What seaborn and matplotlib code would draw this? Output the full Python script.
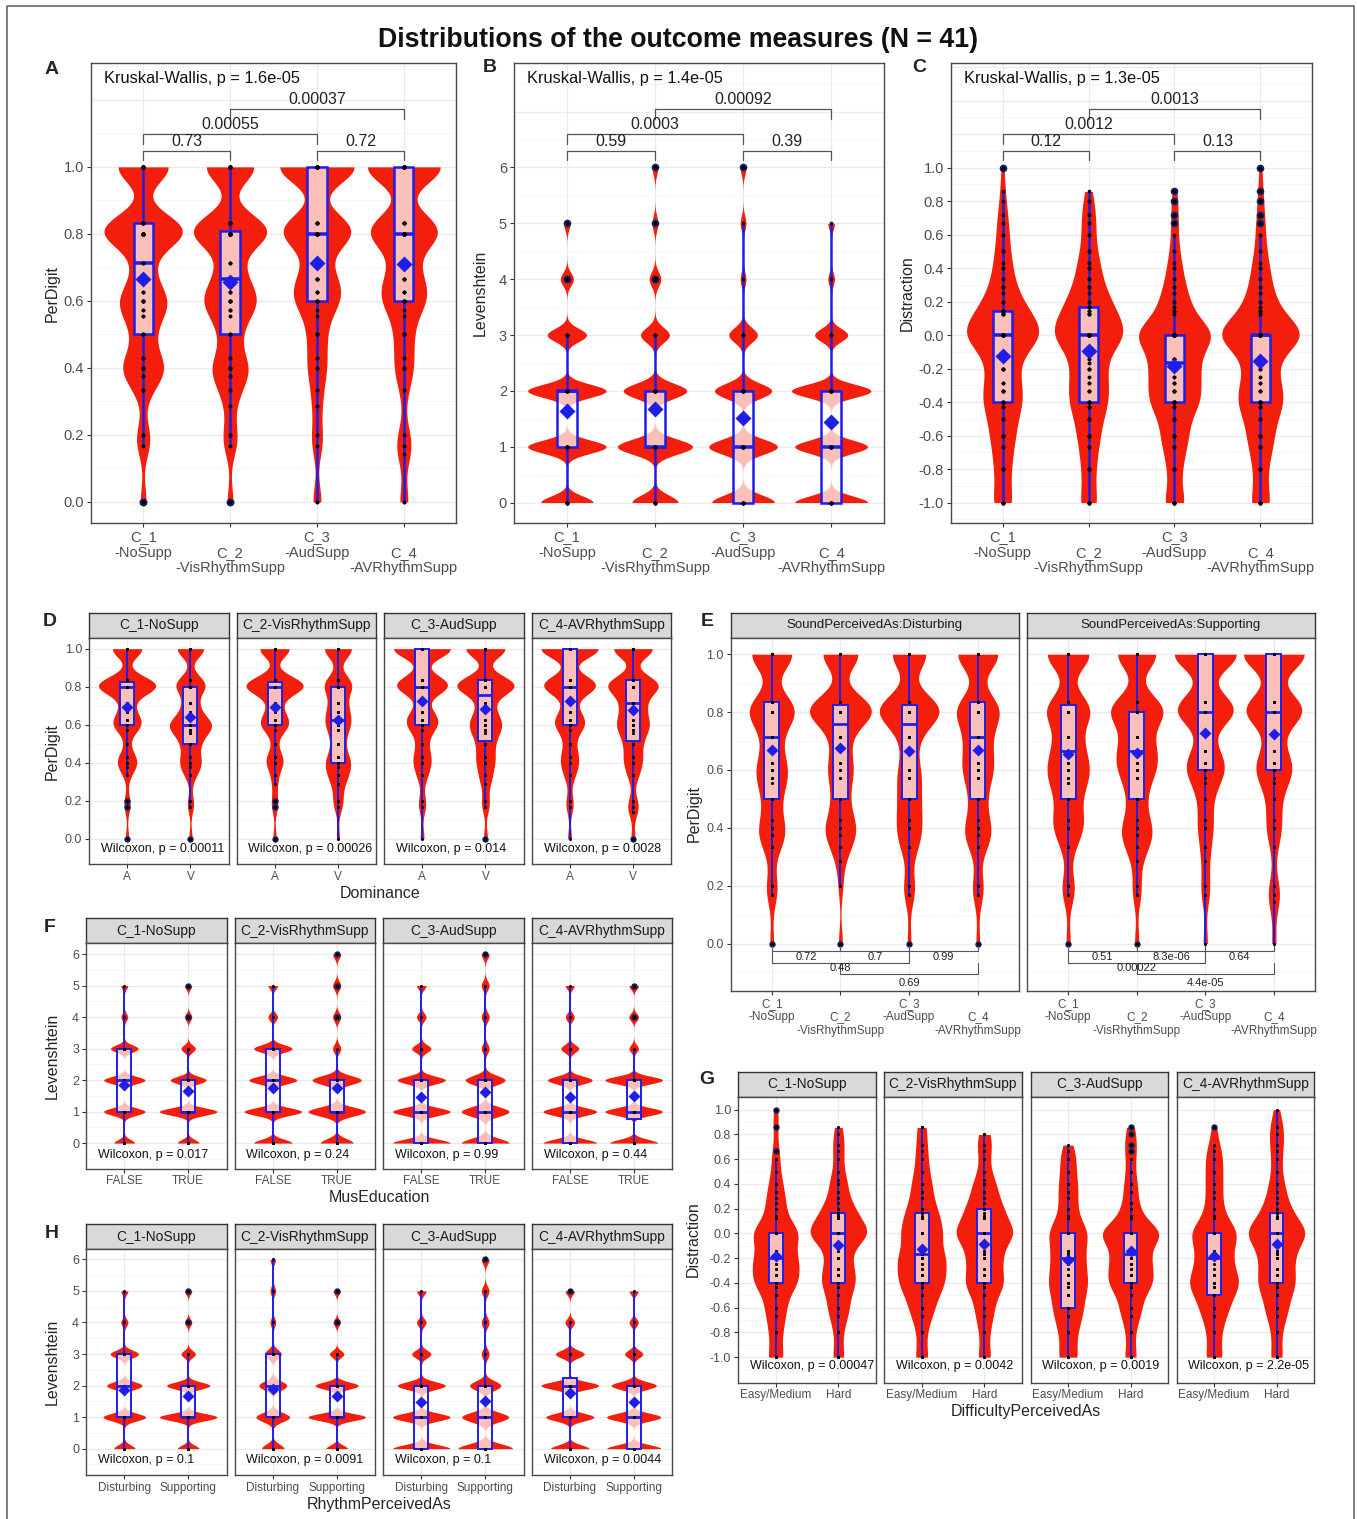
import numpy as np
import pandas as pd
import matplotlib
matplotlib.use("Agg")
import matplotlib.pyplot as plt
import matplotlib.transforms as mtransforms
import seaborn as sns

# ---------------- data (counts per observed level) ----------------
CONDITIONS = ["C_1-NoSupp", "C_2-VisRhythmSupp", "C_3-AudSupp", "C_4-AVRhythmSupp"]
COND_TICKS = ["C_1\n-NoSupp", "\nC_2\n-VisRhythmSupp", "C_3\n-AudSupp", "\nC_4\n-AVRhythmSupp"]

PD_LEVELS = [0, 0.1429, 0.1667, 0.2, 0.2857, 0.3333, 0.375, 0.4, 0.4286, 0.5,
             0.5556, 0.5714, 0.6, 0.625, 0.6667, 0.7143, 0.8, 0.8333, 1.0]
LV_LEVELS = [0, 1, 2, 3, 4, 5, 6]
DS_LEVELS = [-1, -0.8, -0.667, -0.6, -0.5, -0.429, -0.4, -0.333, -0.286, -0.25,
             -0.2, -0.167, -0.143, 0, 0.125, 0.143, 0.167, 0.2, 0.25, 0.286,
             0.333, 0.4, 0.429, 0.5, 0.6, 0.667, 0.714, 0.8, 0.857, 1.0]

# A: PerDigit per condition
PD_C1 = [2, 0, 2, 3, 0, 3, 3, 7, 4, 5, 3, 3, 8, 3, 3, 4, 20, 9, 18]
PD_C2 = [2, 0, 2, 3, 2, 3, 3, 6, 3, 5, 2, 4, 8, 4, 5, 4, 19, 8, 17]
PD_C3 = [3, 0, 2, 2, 2, 2, 0, 4, 2, 5, 1, 1, 8, 4, 7, 3, 18, 8, 28]
PD_C4 = [3, 2, 2, 2, 0, 2, 0, 4, 2, 5, 1, 1, 8, 4, 6, 4, 18, 8, 28]

# B: Levenshtein per condition
LV_C1 = [8, 12, 12, 6, 2, 1, 0]
LV_C2 = [8, 13, 11, 5, 2, 1, 1]
LV_C3 = [11, 12, 10, 5, 1, 1, 1]
LV_C4 = [11, 11, 12, 5, 1, 1, 0]

# C: Distraction per condition
DS_C1 = [8, 6, 3, 6, 4, 3, 6, 6, 3, 0, 6, 0, 4, 28, 6, 7, 0, 3, 2, 3, 2, 3, 1, 3, 2, 2, 1, 1, 1, 1]
DS_C2 = [7, 5, 3, 5, 4, 3, 6, 5, 3, 2, 5, 2, 3, 26, 5, 4, 5, 3, 2, 3, 3, 3, 2, 3, 2, 2, 2, 2, 1, 0]
DS_C3 = [8, 5, 4, 6, 4, 3, 9, 6, 4, 3, 5, 5, 5, 28, 2, 3, 2, 3, 2, 2, 2, 2, 1, 2, 1, 1, 1, 1, 1, 0]
DS_C4 = [8, 5, 4, 6, 4, 3, 9, 5, 3, 2, 4, 2, 3, 33, 3, 3, 2, 3, 2, 2, 2, 3, 1, 2, 2, 1, 1, 1, 1, 1]

# D: PerDigit by Dominance (A / V)
DOM_GROUPS = ["A", "V"]
DOM_A_C1 = [1, 0, 1, 1, 0, 1, 1, 3, 2, 1, 0, 1, 5, 2, 2, 2, 14, 4, 9]
DOM_V_C1 = [1, 0, 1, 1, 0, 2, 1, 3, 2, 4, 2, 2, 7, 2, 2, 3, 6, 3, 8]
DOM_A_C2 = [1, 0, 1, 1, 1, 1, 0, 3, 2, 1, 0, 1, 5, 2, 2, 2, 14, 4, 9]
DOM_V_C2 = [1, 0, 1, 2, 2, 3, 1, 4, 2, 3, 0, 2, 3, 2, 3, 3, 6, 3, 9]
DOM_A_C3 = [1, 0, 1, 1, 0, 2, 0, 2, 2, 2, 0, 1, 4, 2, 3, 0, 10, 4, 15]
DOM_V_C3 = [1, 0, 1, 1, 1, 2, 0, 2, 2, 3, 1, 2, 3, 2, 2, 2, 11, 4, 10]
DOM_A_C4 = [1, 0, 1, 1, 0, 2, 0, 2, 2, 2, 0, 1, 4, 2, 2, 1, 10, 4, 15]
DOM_V_C4 = [1, 1, 1, 1, 0, 2, 0, 2, 2, 3, 1, 2, 3, 2, 2, 4, 9, 4, 10]
DOM_P = ["0.00011", "0.00026", "0.014", "0.0028"]

# E: PerDigit by SoundPerceivedAs
SND_FACETS = ["SoundPerceivedAs:Disturbing", "SoundPerceivedAs:Supporting"]
SND_DIS_C1 = [1, 0, 1, 2, 0, 2, 2, 3, 1, 3, 1, 2, 3, 2, 1, 3, 9, 3, 11]
SND_DIS_C2 = [1, 0, 0, 1, 1, 2, 2, 3, 2, 3, 0, 2, 2, 2, 1, 3, 12, 4, 9]
SND_DIS_C3 = [1, 0, 1, 2, 0, 3, 0, 3, 2, 4, 0, 2, 3, 0, 1, 3, 12, 4, 9]
SND_DIS_C4 = [1, 0, 1, 2, 0, 2, 2, 3, 1, 3, 0, 2, 3, 2, 2, 4, 8, 3, 11]
SND_SUP_C1 = [1, 0, 1, 2, 0, 2, 0, 3, 3, 3, 2, 2, 3, 2, 3, 3, 7, 3, 10]
SND_SUP_C2 = [1, 0, 1, 1, 1, 2, 2, 3, 1, 3, 0, 2, 3, 2, 4, 3, 9, 3, 9]
SND_SUP_C3 = [1, 0, 1, 1, 1, 1, 0, 2, 1, 2, 1, 1, 4, 2, 3, 0, 10, 4, 15]
SND_SUP_C4 = [1, 1, 1, 1, 0, 1, 0, 2, 1, 2, 1, 1, 4, 2, 2, 1, 10, 4, 15]
SND_DIS_P = ["0.72", "0.7", "0.99", "0.48", "0.69"]
SND_SUP_P = ["0.51", "8.3e-06", "0.64", "0.00022", "4.4e-05"]

# F: Levenshtein by MusEducation
MUS_GROUPS = ["FALSE", "TRUE"]
MUS_F_C1 = [3, 6, 6, 4, 1, 1, 0]
MUS_T_C1 = [3, 8, 5, 2, 1, 1, 0]
MUS_F_C2 = [4, 6, 5, 4, 1, 1, 0]
MUS_T_C2 = [4, 7, 6, 1, 1, 1, 1]
MUS_F_C3 = [6, 6, 5, 2, 1, 1, 0]
MUS_T_C3 = [6, 6, 5, 1, 1, 1, 1]
MUS_F_C4 = [6, 6, 5, 2, 1, 1, 0]
MUS_T_C4 = [5, 6, 6, 1, 1, 1, 0]
MUS_P = ["0.017", "0.24", "0.99", "0.44"]

# G: Distraction by DifficultyPerceivedAs
DIF_GROUPS = ["Easy/Medium", "Hard"]
DIF_E_C1 = [4, 3, 2, 3, 2, 1, 6, 3, 2, 2, 4, 2, 2, 11, 1, 1, 0, 2, 1, 1, 1, 2, 0, 1, 1, 1, 0, 0, 1, 1]
DIF_H_C1 = [3, 2, 2, 3, 2, 2, 3, 3, 2, 0, 3, 0, 2, 14, 2, 2, 2, 2, 1, 1, 1, 2, 1, 1, 1, 1, 1, 1, 1, 0]
DIF_E_C2 = [3, 2, 2, 3, 3, 2, 4, 3, 2, 2, 3, 3, 2, 8, 2, 1, 2, 2, 0, 1, 2, 2, 0, 2, 1, 1, 1, 0, 2, 0]
DIF_H_C2 = [3, 2, 2, 2, 2, 2, 4, 2, 2, 0, 3, 2, 2, 12, 2, 2, 1, 3, 1, 1, 2, 2, 1, 1, 1, 1, 1, 2, 0, 0]
DIF_E_C3 = [5, 4, 3, 4, 3, 2, 4, 3, 1, 1, 3, 2, 2, 9, 1, 1, 0, 2, 0, 1, 2, 2, 0, 2, 2, 1, 1, 0, 0, 0]
DIF_H_C3 = [3, 2, 2, 3, 2, 2, 5, 3, 2, 2, 2, 3, 2, 14, 1, 1, 0, 2, 1, 0, 1, 2, 0, 1, 1, 1, 1, 1, 1, 0]
DIF_E_C4 = [4, 3, 2, 4, 3, 2, 6, 3, 1, 1, 3, 2, 2, 10, 1, 1, 0, 2, 0, 1, 1, 2, 0, 2, 2, 1, 1, 0, 1, 0]
DIF_H_C4 = [3, 2, 2, 3, 2, 2, 4, 2, 2, 0, 3, 2, 2, 13, 2, 1, 2, 1, 1, 1, 1, 2, 0, 1, 1, 1, 1, 1, 2, 1]
DIF_P = ["0.00047", "0.0042", "0.0019", "2.2e-05"]

# H: Levenshtein by RhythmPerceivedAs
RHY_GROUPS = ["Disturbing", "Supporting"]
RHY_D_C1 = [3, 6, 5, 4, 1, 1, 0]
RHY_S_C1 = [3, 8, 6, 2, 1, 1, 0]
RHY_D_C2 = [4, 6, 5, 3, 1, 1, 1]
RHY_S_C2 = [3, 8, 6, 2, 1, 1, 0]
RHY_D_C3 = [6, 6, 5, 2, 1, 1, 0]
RHY_S_C3 = [7, 6, 4, 1, 1, 1, 1]
RHY_D_C4 = [4, 5, 6, 3, 1, 1, 0]
RHY_S_C4 = [6, 6, 5, 2, 1, 1, 0]
RHY_P = ["0.1", "0.0091", "0.1", "0.0044"]

KW_P = ["1.6e-05", "1.4e-05", "1.3e-05"]
PAIR_P = {"A": ["0.73", "0.72", "0.00055", "0.00037"],
          "B": ["0.59", "0.39", "0.0003", "0.00092"],
          "C": ["0.12", "0.13", "0.0012", "0.0013"]}

# ---------------- style ----------------
W, H = 1357, 1519
sns.set_theme(style="white")
plt.rcParams["font.family"] = ["Liberation Sans", "DejaVu Sans"]

RED = "#F31E0B"
BLUE = "#1E1EE8"
NAVY = "#15205A"
GRID = "#EBEBEB"
GRID_MINOR = "#F5F5F5"
TICK = "#4D4D4D"
FRAME = "#4A4A4A"

fig = plt.figure(figsize=(W / 100, H / 100), dpi=100)


def px_axes(x0, y0, x1, y1):
    return fig.add_axes([x0 / W, 1 - y1 / H, (x1 - x0) / W, (y1 - y0) / H])


def ftext(x, y, s, **kw):
    fig.text(x / W, 1 - y / H, s, **kw)


def long_df(groups, levels, count_lists):
    parts = [pd.DataFrame({"group": g, "value": np.repeat(levels, c)})
             for g, c in zip(groups, count_lists)]
    return pd.concat(parts, ignore_index=True)


def draw_dist(ax, df, order, bw, big=False):
    lw = 1.8 if big else 1.4
    sns.violinplot(data=df, x="group", y="value", order=order, ax=ax, color=RED,
                   saturation=1, inner=None, cut=0, density_norm="area", width=0.9,
                   bw_adjust=bw, linewidth=0, gridsize=300)
    sns.boxplot(data=df, x="group", y="value", order=order, ax=ax, width=0.22, whis=1.5,
                showcaps=False, linecolor=BLUE, linewidth=lw,
                boxprops=dict(facecolor=(1, 1, 1, 0.72), edgecolor=BLUE, linewidth=lw),
                whiskerprops=dict(color=BLUE, linewidth=lw),
                medianprops=dict(color=BLUE, linewidth=lw * 1.4),
                flierprops=dict(marker="o", markerfacecolor=NAVY, markeredgecolor=NAVY,
                                markersize=4.5 if big else 3.6))
    sns.stripplot(data=df, x="group", y="value", order=order, ax=ax, jitter=False,
                  color="black", size=2.6 if big else 2.2, linewidth=0, zorder=4)
    sns.pointplot(data=df, x="group", y="value", order=order, ax=ax, estimator="mean",
                  errorbar=None, markers="D", linestyles="none", color=BLUE,
                  markersize=6.5 if big else 4.3, zorder=5)


def style_axes(ax, n, ylim, ticks, labels, major, minor, ytick_fs, xlabels, xtick_fs,
               show_y=True, linespacing=1.0):
    ax.set_xlim(-0.6, n - 0.4)
    ax.set_ylim(*ylim)
    ax.set_xlabel("")
    ax.set_ylabel("")
    ax.grid(False)
    for v in minor:
        ax.axhline(v, color=GRID_MINOR, lw=0.6, zorder=0)
    for v in major:
        ax.axhline(v, color=GRID, lw=0.9, zorder=0)
    for i in range(n):
        ax.axvline(i, color=GRID, lw=0.9, zorder=0)
    ax.set_xticks(range(n))
    ax.set_xticklabels(xlabels, fontsize=xtick_fs, color=TICK, linespacing=linespacing)
    ax.set_yticks(ticks)
    if show_y:
        ax.set_yticklabels(labels, fontsize=ytick_fs, color=TICK)
        ax.tick_params(axis="y", left=True, length=3, width=0.8, color="#333333", pad=2)
    else:
        ax.set_yticklabels([])
        ax.tick_params(axis="y", left=False, length=0)
    ax.tick_params(axis="x", bottom=True, length=3, width=0.8, color="#333333", pad=2)
    for sp in ax.spines.values():
        sp.set_color(FRAME)
        sp.set_linewidth(1.0)


def strip(x0, x1, y0, y1, text, fs):
    s = px_axes(x0, y0, x1, y1)
    s.set_facecolor("#D9D9D9")
    s.set_xticks([])
    s.set_yticks([])
    for sp in s.spines.values():
        sp.set_color("#333333")
        sp.set_linewidth(1.0)
    s.text(0.5, 0.5, text, ha="center", va="center", fontsize=fs, color="#1A1A1A",
           transform=s.transAxes)


PD_TICKS = [0, 0.2, 0.4, 0.6, 0.8, 1.0]
PD_LABELS = ["0.0", "0.2", "0.4", "0.6", "0.8", "1.0"]
LV_TICKS = [0, 1, 2, 3, 4, 5, 6]
LV_LABELS = ["0", "1", "2", "3", "4", "5", "6"]
DS_TICKS = [-1.0, -0.8, -0.6, -0.4, -0.2, 0.0, 0.2, 0.4, 0.6, 0.8, 1.0]
DS_LABELS = ["-1.0", "-0.8", "-0.6", "-0.4", "-0.2", "0.0", "0.2", "0.4", "0.6", "0.8", "1.0"]

# ---------------- title & frame ----------------
ftext(678, 40, "Distributions of the outcome measures (N = 41)", ha="center", va="center",
      fontsize=19.3, fontweight="bold", color="#111111")
fig.add_artist(plt.Line2D([7 / W, 7 / W, 1354 / W, 1354 / W],
                          [-0.01, 1 - 6 / H, 1 - 6 / H, -0.01],
                          transform=fig.transFigure, color="#666666", lw=1.2))

# ---------------- A, B, C ----------------
top_specs = [
    ("A", (91, 456), PD_LEVELS, [PD_C1, PD_C2, PD_C3, PD_C4], 0.48, "PerDigit", 52,
     (-0.063, 1.31), PD_TICKS, PD_LABELS, np.arange(0, 1.25, 0.2), np.arange(0.1, 1.35, 0.2)),
    ("B", (514, 884), LV_LEVELS, [LV_C1, LV_C2, LV_C3, LV_C4], 0.2, "Levenshtein", 480,
     (-0.366, 7.87), LV_TICKS, LV_LABELS, np.arange(0, 7.5, 1), np.arange(0.5, 8, 1)),
    ("C", (951, 1312), DS_LEVELS, [DS_C1, DS_C2, DS_C3, DS_C4], 0.6, "Distraction", 907,
     (-1.122, 1.624), DS_TICKS, DS_LABELS, np.arange(-1, 1.65, 0.2), np.arange(-1.1, 1.65, 0.2)),
]
letter_pos = {"A": (52, 70), "B": (490, 68), "C": (919, 68)}
# pixel offsets from the axes top: (line, tip, text)
TOP_LEVELS = {1: (87.7, 97.0, 78.5), 2: (71.3, 81.0, 61.3), 3: (45.7, 55.5, 36.0)}
pairs_idx = [(0, 1, 1), (2, 3, 1), (0, 2, 2), (1, 3, 3)]

for k, (letter, (x0, x1), levels, counts, bw, ylab, ylx, ylim, ticks, labels, major, minor) in enumerate(top_specs):
    ax = px_axes(x0, 63, x1, 523)
    df = long_df(CONDITIONS, levels, counts)
    draw_dist(ax, df, CONDITIONS, bw, big=True)
    style_axes(ax, 4, ylim, ticks, labels, major, minor, 10.5, COND_TICKS, 10.5,
               linespacing=1.15)
    tr = mtransforms.blended_transform_factory(ax.transData, ax.transAxes)
    for (a, b, lvl), lab in zip(pairs_idx, PAIR_P[letter]):
        lo, to, xo = TOP_LEVELS[lvl]
        yl, yt, ytx = 1 - lo / 460, 1 - to / 460, 1 - xo / 460
        ax.plot([a, a, b, b], [yt, yl, yl, yt], transform=tr, color="#555555", lw=0.9,
                clip_on=False)
        ax.text((a + b) / 2, ytx, lab, transform=tr, ha="center", va="center",
                fontsize=11.5, color="#222222")
    ax.annotate(f"Kruskal-Wallis, p = {KW_P[k]}", xy=(0, 1), xycoords="axes fraction",
                xytext=(13, -16), textcoords="offset pixels", ha="left", va="center",
                fontsize=11.8, color="#111111")
    ax.set_xlim(-0.6, 3.6)
    ax.set_ylim(*ylim)
    ftext(ylx, 293, ylab, rotation=90, ha="center", va="center", fontsize=11.5)
    lx, ly = letter_pos[letter]
    ftext(lx, ly, letter, ha="center", va="center", fontsize=14, fontweight="bold")


# ---------------- faceted two-group panels (D, F, G, H) ----------------
def facet_panel(letter, letter_xy, facets, y_strip, y_plot, groups, levels, pairs, bw,
                ylim, ticks, labels, major, minor, ylab, ylab_x, xtitle, ptexts, p_dy):
    for i, ((x0, x1), (c_a, c_b)) in enumerate(zip(facets, pairs)):
        strip(x0, x1, y_strip[0], y_strip[1], CONDITIONS[i], 9.9)
        ax = px_axes(x0, y_plot[0], x1, y_plot[1])
        df = long_df(groups, levels, [c_a, c_b])
        draw_dist(ax, df, groups, bw)
        style_axes(ax, 2, ylim, ticks, labels, major, minor, 9, groups, 8.5,
                   show_y=(i == 0))
        ax.annotate(f"Wilcoxon, p = {ptexts[i]}", xy=(0, 0), xycoords="axes fraction",
                    xytext=(12, p_dy), textcoords="offset pixels", ha="left", va="center",
                    fontsize=9, color="#111111", annotation_clip=False)
    yc = (y_plot[0] + y_plot[1]) / 2
    ftext(ylab_x, yc, ylab, rotation=90, ha="center", va="center", fontsize=11.5)
    xc = (facets[0][0] + facets[-1][1]) / 2
    ftext(xc, y_plot[1] + 29, xtitle, ha="center", va="center", fontsize=11.5)
    ftext(letter_xy[0], letter_xy[1], letter, ha="center", va="center", fontsize=14,
          fontweight="bold")


LEFT_D = [(89, 228.5), (236.5, 376), (384, 523.5), (531.5, 671)]
LEFT_FH = [(86, 226.5), (234.5, 375), (383, 523.5), (531.5, 672)]
RIGHT_G = [(738, 876), (884, 1022), (1030.5, 1168), (1176.5, 1314)]

facet_panel("D", (50, 622), LEFT_D, (613, 638), (638, 864), DOM_GROUPS, PD_LEVELS,
            [(DOM_A_C1, DOM_V_C1), (DOM_A_C2, DOM_V_C2), (DOM_A_C3, DOM_V_C3), (DOM_A_C4, DOM_V_C4)],
            0.42, (-0.133, 1.056), PD_TICKS, PD_LABELS, np.arange(0, 1.05, 0.2),
            np.arange(-0.1, 1.05, 0.2), "PerDigit", 52, "Dominance", DOM_P, 15)

facet_panel("F", (50, 927), LEFT_FH, (918, 943), (943, 1168.5), MUS_GROUPS, LV_LEVELS,
            [(MUS_F_C1, MUS_T_C1), (MUS_F_C2, MUS_T_C2), (MUS_F_C3, MUS_T_C3), (MUS_F_C4, MUS_T_C4)],
            0.16, (-0.806, 6.35), LV_TICKS, LV_LABELS, np.arange(0, 6.5, 1),
            np.arange(-0.5, 6.5, 1), "Levenshtein", 52, "MusEducation", MUS_P, 13.5)

facet_panel("H", (52, 1234), LEFT_FH, (1224, 1249), (1249, 1475), RHY_GROUPS, LV_LEVELS,
            [(RHY_D_C1, RHY_S_C1), (RHY_D_C2, RHY_S_C2), (RHY_D_C3, RHY_S_C3), (RHY_D_C4, RHY_S_C4)],
            0.16, (-0.835, 6.33), LV_TICKS, LV_LABELS, np.arange(0, 6.5, 1),
            np.arange(-0.5, 6.5, 1), "Levenshtein", 52, "RhythmPerceivedAs", RHY_P, 15)

facet_panel("G", (707, 1079), RIGHT_G, (1072, 1096.5), (1096.5, 1382.5), DIF_GROUPS, DS_LEVELS,
            [(DIF_E_C1, DIF_H_C1), (DIF_E_C2, DIF_H_C2), (DIF_E_C3, DIF_H_C3), (DIF_E_C4, DIF_H_C4)],
            0.5, (-1.205, 1.107), DS_TICKS, DS_LABELS, np.arange(-1, 1.05, 0.2),
            np.arange(-1.1, 1.15, 0.2), "Distraction", 693, "DifficultyPerceivedAs", DIF_P, 16.5)

# ---------------- E ----------------
E_FACETS = [(730.5, 1019), (1027, 1315)]
E_DATA = [[SND_DIS_C1, SND_DIS_C2, SND_DIS_C3, SND_DIS_C4],
          [SND_SUP_C1, SND_SUP_C2, SND_SUP_C3, SND_SUP_C4]]
E_PVALS = [SND_DIS_P, SND_SUP_P]
# offsets above the plot bottom in px: (line, tip, text)
E_LEVELS = {1: (40.0, 47.7, 34.3), 2: (28.3, 40.0, 22.7), 3: (16.7, 28.3, 8.3)}
e_pairs = [(0, 1, 1), (1, 2, 1), (2, 3, 1), (0, 2, 2), (1, 3, 3)]
for i, (x0, x1) in enumerate(E_FACETS):
    strip(x0, x1, 613, 638, SND_FACETS[i], 9.5)
    ax = px_axes(x0, 638, x1, 991)
    df = long_df(CONDITIONS, PD_LEVELS, E_DATA[i])
    draw_dist(ax, df, CONDITIONS, 0.46)
    style_axes(ax, 4, (-0.164, 1.056), PD_TICKS, PD_LABELS, np.arange(0, 1.05, 0.2),
               np.arange(-0.1, 1.05, 0.2), 9, COND_TICKS, 8.5, show_y=(i == 0),
               linespacing=1.15)
    tr = mtransforms.blended_transform_factory(ax.transData, ax.transAxes)
    for (a, b, lvl), lab in zip(e_pairs, E_PVALS[i]):
        lo, to, xo = E_LEVELS[lvl]
        ax.plot([a, a, b, b], [to / 353, lo / 353, lo / 353, to / 353], transform=tr,
                color="#555555", lw=0.8)
        ax.text((a + b) / 2, xo / 353, lab, transform=tr, ha="center", va="center",
                fontsize=8, color="#222222")
    ax.set_xlim(-0.6, 3.6)
    ax.set_ylim(-0.164, 1.056)
ftext(694, 814, "PerDigit", rotation=90, ha="center", va="center", fontsize=11.5)
ftext(707, 622, "E", ha="center", va="center", fontsize=14, fontweight="bold")

fig.savefig("out.png", dpi=100)
